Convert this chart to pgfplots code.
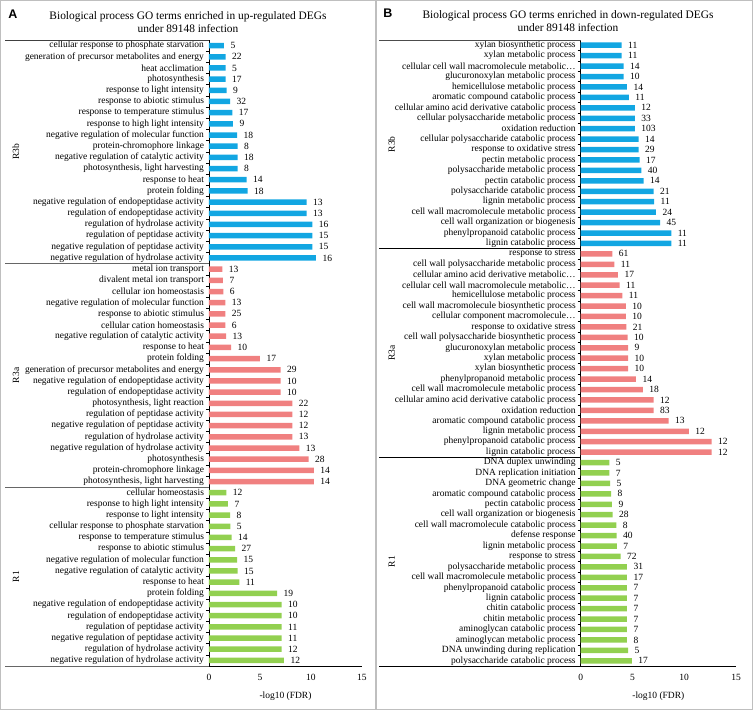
\documentclass[border=0pt]{standalone}
\usepackage{pgfplots}
\pgfplotsset{compat=1.18}
\usepackage{pgfplotstable}
\usepackage{fontspec}
\setmainfont{Liberation Serif}
\newfontfamily\lsans{Liberation Sans}
\definecolor{cb}{RGB}{18,166,226}
\definecolor{cr}{RGB}{240,128,128}
\definecolor{cg}{RGB}{146,208,80}

\pgfplotstableread[col sep=semicolon]{
y;v;n;label
0;1.47;5;cellular response to phosphate starvation
1;1.63;22;generation of precursor metabolites and energy
2;1.63;5;heat acclimation
3;1.63;17;photosynthesis
4;1.73;9;response to light intensity
5;2.06;32;response to abiotic stimulus
6;2.29;17;response to temperature stimulus
7;2.35;9;response to high light intensity
8;2.75;18;negative regulation of molecular function
9;2.81;8;protein-chromophore linkage
10;2.81;18;negative regulation of catalytic activity
11;2.81;8;photosynthesis, light harvesting
12;3.69;14;response to heat
13;3.79;18;protein folding
14;9.58;13;negative regulation of endopeptidase activity
15;9.58;13;regulation of endopeptidase activity
16;10.13;16;regulation of hydrolase activity
17;10.13;15;regulation of peptidase activity
18;10.13;15;negative regulation of peptidase activity
19;10.49;16;negative regulation of hydrolase activity
20;1.31;13;metal ion transport
21;1.37;7;divalent metal ion transport
22;1.40;6;cellular ion homeostasis
23;1.60;13;negative regulation of molecular function
24;1.60;25;response to abiotic stimulus
25;1.60;6;cellular cation homeostasis
26;1.67;13;negative regulation of catalytic activity
27;2.16;10;response to heat
28;5.00;17;protein folding
29;7.03;29;generation of precursor metabolites and energy
30;7.03;10;negative regulation of endopeptidase activity
31;7.03;10;regulation of endopeptidase activity
32;8.17;22;photosynthesis, light reaction
33;8.17;12;regulation of peptidase activity
34;8.17;12;negative regulation of peptidase activity
35;8.17;13;regulation of hydrolase activity
36;8.86;13;negative regulation of hydrolase activity
37;9.77;28;photosynthesis
38;10.29;14;protein-chromophore linkage
39;10.29;14;photosynthesis, light harvesting
40;1.70;12;cellular homeostasis
41;1.86;7;response to high light intensity
42;2.06;8;response to light intensity
43;2.09;5;cellular response to phosphate starvation
44;2.22;14;response to temperature stimulus
45;2.55;27;response to abiotic stimulus
46;2.75;15;negative regulation of molecular function
47;2.81;15;negative regulation of catalytic activity
48;2.97;11;response to heat
49;6.67;19;protein folding
50;7.12;10;negative regulation of endopeptidase activity
51;7.12;10;regulation of endopeptidase activity
52;7.12;11;regulation of peptidase activity
53;7.12;11;negative regulation of peptidase activity
54;7.12;12;regulation of hydrolase activity
55;7.35;12;negative regulation of hydrolase activity
}\tblA

\pgfplotstableread[col sep=semicolon]{
y;v;n;label
0;3.95;11;xylan biosynthetic process
1;3.95;11;xylan metabolic process
2;4.15;14;cellular cell wall macromolecule metabolic…
3;4.15;10;glucuronoxylan metabolic process
4;4.47;14;hemicellulose metabolic process
5;4.66;11;aromatic compound catabolic process
6;5.24;12;cellular amino acid derivative catabolic process
7;5.24;33;cellular polysaccharide metabolic process
8;5.24;103;oxidation reduction
9;5.60;14;cellular polysaccharide catabolic process
10;5.60;29;response to oxidative stress
11;5.69;17;pectin metabolic process
12;5.85;40;polysaccharide metabolic process
13;6.08;14;pectin catabolic process
14;7.04;21;polysaccharide catabolic process
15;7.10;11;lignin metabolic process
16;7.27;24;cell wall macromolecule metabolic process
17;7.68;45;cell wall organization or biogenesis
18;8.75;11;phenylpropanoid catabolic process
19;8.75;11;lignin catabolic process
20;3.05;61;response to stress
21;3.25;11;cell wall polysaccharide metabolic process
22;3.60;17;cellular amino acid derivative metabolic…
23;3.76;11;cellular cell wall macromolecule metabolic…
24;4.02;11;hemicellulose metabolic process
25;4.37;10;cell wall macromolecule biosynthetic process
26;4.37;10;cellular component macromolecule…
27;4.40;21;response to oxidative stress
28;4.53;10;cell wall polysaccharide biosynthetic process
29;4.57;9;glucuronoxylan metabolic process
30;4.57;10;xylan metabolic process
31;4.57;10;xylan biosynthetic process
32;5.34;14;phenylpropanoid metabolic process
33;6.01;18;cell wall macromolecule metabolic process
34;7.04;12;cellular amino acid derivative catabolic process
35;7.04;83;oxidation reduction
36;8.49;13;aromatic compound catabolic process
37;10.45;12;lignin metabolic process
38;12.64;12;phenylpropanoid catabolic process
39;12.64;12;lignin catabolic process
40;2.77;5;DNA duplex unwinding
41;2.77;7;DNA replication initiation
42;2.83;5;DNA geometric change
43;2.93;8;aromatic compound catabolic process
44;3.02;9;pectin catabolic process
45;3.09;28;cell wall organization or biogenesis
46;3.44;8;cell wall macromolecule catabolic process
47;3.47;40;defense response
48;3.50;7;lignin metabolic process
49;3.86;72;response to stress
50;4.47;31;polysaccharide metabolic process
51;4.47;17;cell wall macromolecule metabolic process
52;4.47;7;phenylpropanoid catabolic process
53;4.47;7;lignin catabolic process
54;4.47;7;chitin catabolic process
55;4.47;7;chitin metabolic process
56;4.47;7;aminoglycan catabolic process
57;4.47;8;aminoglycan metabolic process
58;4.57;5;DNA unwinding during replication
59;4.95;17;polysaccharide catabolic process
}\tblB

\pgfplotsset{panel/.style={
  scale only axis, height=626pt,
  xbar, bar width=5.5pt, bar shift=0pt,
  xmin=0, xmax=15, y dir=reverse,
  axis x line*=bottom, axis y line*=left,
  axis line style={-, line width=0.8pt, black},
  xtick={0,5,10,15},
  major tick length=0pt, minor tick length=3pt,
  tick align=outside,
  tick style={black, line width=0.5pt},
  clip=false,
  nodes near coords, point meta=explicit symbolic,
  nodes near coords align=horizontal,
  every node near coord/.append style={font=\fontsize{9.5}{11}\selectfont, anchor=west, xshift=3pt, black},
  xlabel={-log10 (FDR)},
  /pgf/number format/assume math mode=true,
  tick label style={font=\fontsize{9.5}{11}\selectfont},
  label style={font=\fontsize{9.5}{11}\selectfont},
  yticklabel style={xshift=-1.5pt},
  xticklabel style={yshift=-5pt},
  xlabel style={yshift=-4pt},
}}

\begin{document}
\begin{tikzpicture}
\useasboundingbox (0pt,0pt) rectangle (753pt,710pt);
\draw[black!25, line width=1.2pt] (0.6pt,0.6pt) rectangle (752.4pt,709.4pt);
\draw[black!25, line width=1.2pt] (376pt,0pt) -- (376pt,710pt);
\node[font=\lsans\bfseries\fontsize{12.5}{14}\selectfont] at (13pt,696pt) {A};
\node[font=\lsans\bfseries\fontsize{12.5}{14}\selectfont] at (388pt,697pt) {B};
\node[align=center, font=\fontsize{11.4}{13}\selectfont] at (188pt,688pt) {Biological process GO terms enriched in up-regulated DEGs\\under 89148 infection};
\node[align=center, font=\fontsize{11.4}{13}\selectfont] at (568pt,688.5pt) {Biological process GO terms enriched in down-regulated DEGs\\under 89148 infection};

\begin{axis}[panel, at={(209pt,44pt)}, anchor=south west, width=153pt,
  ymin=-0.5, ymax=55.5, ytick={0,...,55}, minor ytick={-0.5,0.5,...,55.5},
  yticklabels from table={\tblA}{label}]
\addplot[fill=cb, draw=none, bar shift=0pt, restrict y to domain=0:19] table[x=v, y=y, meta=n] {\tblA};
\addplot[fill=cr, draw=none, bar shift=0pt, restrict y to domain=20:39] table[x=v, y=y, meta=n] {\tblA};
\addplot[fill=cg, draw=none, bar shift=0pt, restrict y to domain=40:55] table[x=v, y=y, meta=n] {\tblA};
\draw[black!75, line width=1pt] (axis cs:0,-0.5) -- ++(-204pt,0pt);
\draw[black!60, line width=1pt] (axis cs:0,19.5) -- ++(-204pt,0pt);
\draw[black!60, line width=1pt] (axis cs:0,39.5) -- ++(-204pt,0pt);
\draw[black!60, line width=1pt] (axis cs:0,55.5) -- ++(-204pt,0pt);
\node[rotate=90, font=\fontsize{9.5}{11}\selectfont] at ([xshift=-193pt]axis cs:0,9.5) {R3b};
\node[rotate=90, font=\fontsize{9.5}{11}\selectfont] at ([xshift=-193pt]axis cs:0,29.5) {R3a};
\node[rotate=90, font=\fontsize{9.5}{11}\selectfont] at ([xshift=-193pt]axis cs:0,47.5) {R1};
\end{axis}

\begin{axis}[panel, at={(580.7pt,44pt)}, anchor=south west, width=155.3pt,
  ymin=-0.5, ymax=59.5, ytick={0,...,59}, minor ytick={-0.5,0.5,...,59.5},
  yticklabels from table={\tblB}{label}]
\addplot[fill=cb, draw=none, bar shift=0pt, restrict y to domain=0:19] table[x=v, y=y, meta=n] {\tblB};
\addplot[fill=cr, draw=none, bar shift=0pt, restrict y to domain=20:39] table[x=v, y=y, meta=n] {\tblB};
\addplot[fill=cg, draw=none, bar shift=0pt, restrict y to domain=40:59] table[x=v, y=y, meta=n] {\tblB};
\draw[black!70, line width=1pt] (axis cs:0,-0.5) -- ++(-202pt,0pt);
\draw[black, line width=0.8pt] (axis cs:0,19.5) -- ++(-202pt,0pt);
\draw[black, line width=0.8pt] (axis cs:0,39.5) -- ++(-202pt,0pt);
\draw[black, line width=0.8pt] (axis cs:0,59.5) -- ++(-202pt,0pt);
\node[rotate=90, font=\fontsize{9.5}{11}\selectfont] at ([xshift=-189pt]axis cs:0,9.5) {R3b};
\node[rotate=90, font=\fontsize{9.5}{11}\selectfont] at ([xshift=-189pt]axis cs:0,29.5) {R3a};
\node[rotate=90, font=\fontsize{9.5}{11}\selectfont] at ([xshift=-189pt]axis cs:0,49.5) {R1};
\end{axis}
\end{tikzpicture}
\end{document}
